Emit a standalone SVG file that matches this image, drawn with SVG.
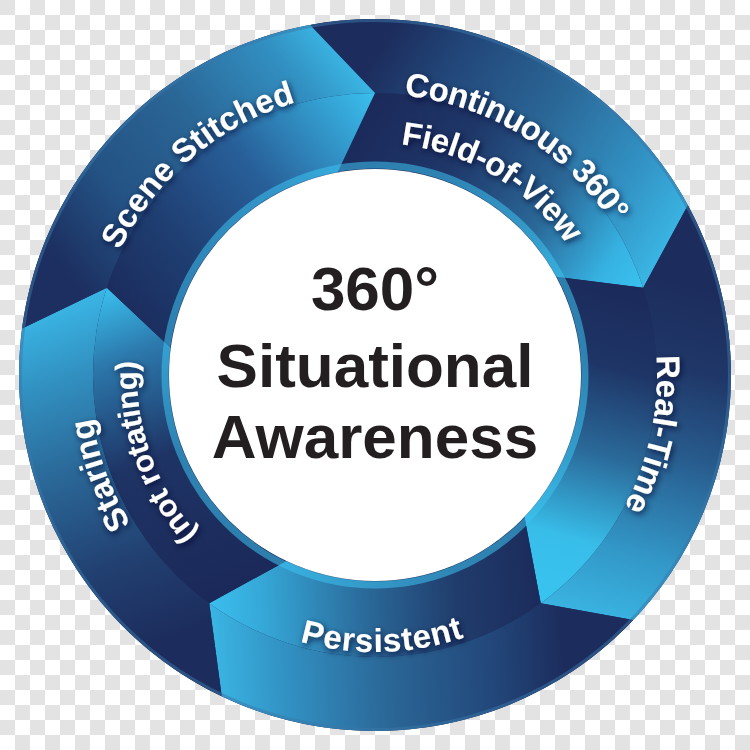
<svg xmlns="http://www.w3.org/2000/svg" xmlns:xlink="http://www.w3.org/1999/xlink" width="750" height="750" viewBox="0 0 750 750">
<defs>
<style>
.ring{font-family:"Liberation Sans",Arial,Helvetica,sans-serif;font-weight:bold;font-size:33px;fill:#ffffff;filter:url(#ts)}
.center{font-family:"Liberation Sans",Arial,Helvetica,sans-serif;font-weight:bold;font-size:62px;fill:#231f20;text-anchor:middle}
</style>
<pattern id="checker" width="30" height="30" patternUnits="userSpaceOnUse">
<rect width="30" height="30" fill="#ffffff"/>
<rect width="15" height="15" fill="#e3e3e3"/>
<rect x="15" y="15" width="15" height="15" fill="#e3e3e3"/>
</pattern>
<filter id="ts" x="-20%" y="-30%" width="140%" height="160%">
<feDropShadow dx="1.5" dy="2.5" stdDeviation="3" flood-color="#07112b" flood-opacity="0.8"/>
</filter>
<linearGradient id="oCont" gradientUnits="userSpaceOnUse" x1="348" y1="94" x2="643" y2="288">
<stop offset="0" stop-color="#1c2c5c"/><stop offset="0.2" stop-color="#224679"/><stop offset="0.5" stop-color="#2a6696"/><stop offset="0.8" stop-color="#3292c4"/><stop offset="1" stop-color="#3ab6e4"/></linearGradient>
<linearGradient id="iCont" gradientUnits="userSpaceOnUse" x1="348" y1="94" x2="643" y2="288">
<stop offset="0" stop-color="#1a2757"/><stop offset="0.35" stop-color="#1e3668"/><stop offset="0.65" stop-color="#2a6898"/><stop offset="0.88" stop-color="#36b2e2"/><stop offset="1" stop-color="#3ac2ef"/></linearGradient>
<linearGradient id="oReal" gradientUnits="userSpaceOnUse" x1="634" y1="263" x2="541" y2="603">
<stop offset="0" stop-color="#1c2c5c"/><stop offset="0.25" stop-color="#1f3768"/><stop offset="0.5" stop-color="#285c8e"/><stop offset="0.8" stop-color="#3298c8"/><stop offset="1" stop-color="#3ab4e2"/></linearGradient>
<linearGradient id="iReal" gradientUnits="userSpaceOnUse" x1="634" y1="263" x2="541" y2="603">
<stop offset="0" stop-color="#1a2757"/><stop offset="0.3" stop-color="#1e3566"/><stop offset="0.55" stop-color="#2a6a9a"/><stop offset="0.8" stop-color="#38bde9"/><stop offset="1" stop-color="#38c4f0"/></linearGradient>
<linearGradient id="oPers" gradientUnits="userSpaceOnUse" x1="562" y1="586" x2="209" y2="603">
<stop offset="0" stop-color="#1c2c5c"/><stop offset="0.2" stop-color="#224679"/><stop offset="0.5" stop-color="#2a6696"/><stop offset="0.8" stop-color="#3292c4"/><stop offset="1" stop-color="#3ab6e4"/></linearGradient>
<linearGradient id="iPers" gradientUnits="userSpaceOnUse" x1="562" y1="586" x2="209" y2="603">
<stop offset="0" stop-color="#1a2757"/><stop offset="0.3" stop-color="#203c6c"/><stop offset="0.55" stop-color="#2a6898"/><stop offset="0.85" stop-color="#35a8d8"/><stop offset="1" stop-color="#3bbfee"/></linearGradient>
<linearGradient id="oStar" gradientUnits="userSpaceOnUse" x1="232" y1="618" x2="107" y2="288">
<stop offset="0" stop-color="#1c2c5c"/><stop offset="0.25" stop-color="#213f70"/><stop offset="0.55" stop-color="#2a6898"/><stop offset="0.8" stop-color="#3190c0"/><stop offset="1" stop-color="#3ab5e5"/></linearGradient>
<linearGradient id="iStar" gradientUnits="userSpaceOnUse" x1="232" y1="618" x2="107" y2="288">
<stop offset="0" stop-color="#1a2757"/><stop offset="0.5" stop-color="#1e3465"/><stop offset="0.8" stop-color="#2c78ac"/><stop offset="1" stop-color="#3ac0ee"/></linearGradient>
<linearGradient id="oScene" gradientUnits="userSpaceOnUse" x1="100" y1="314" x2="375" y2="93">
<stop offset="0" stop-color="#1c2f60"/><stop offset="0.25" stop-color="#245284"/><stop offset="0.55" stop-color="#2a6696"/><stop offset="0.85" stop-color="#3290c2"/><stop offset="1" stop-color="#3ab6e4"/></linearGradient>
<linearGradient id="iScene" gradientUnits="userSpaceOnUse" x1="100" y1="314" x2="375" y2="93">
<stop offset="0" stop-color="#1a2858"/><stop offset="0.3" stop-color="#1f3e72"/><stop offset="0.6" stop-color="#28609a"/><stop offset="1" stop-color="#3ac0ee"/></linearGradient>
<path id="pScene" d="M129.30,517.43 A284,284 0 0 1 557.17,157.12"/>
<path id="pCont" d="M164.87,188.44 A281,281 0 0 1 636.27,478.44"/>
<path id="pField" d="M199.91,222.79 A232,232 0 0 1 591.59,458.14"/>
<path id="pReal" d="M480.64,113.54 A282,282 0 0 1 365.16,656.83"/>
<path id="pPers" d="M103.66,430.70 A277,277 0 0 0 649.03,415.46"/>
<path id="pStar" d="M424.66,656.66 A286,286 0 0 1 232,127.32"/>
<path id="pNot" d="M413.46,609.87 A238,238 0 0 1 258.53,167.45"/>
</defs>

<rect width="750" height="750" fill="url(#checker)"/>

<circle cx="375" cy="375" r="356" fill="#1b2a5a"/>

<g id="node-continuous">
<path d="M310.12,24.96 A356,356 0 0 1 687.86,205.13 L643.20,287.86 A282,282 0 0 0 375,93 Z" fill="url(#oCont)"/>
<path d="M375,93 A282,282 0 0 1 643.20,287.86 L556.04,276.71 A206,206 0 0 0 337.46,172.45 Z" fill="url(#iCont)"/>
<text class="ring" letter-spacing="-0.6"><textPath xlink:href="#pCont" href="#pCont" startOffset="50%" text-anchor="middle">Continuous 360°</textPath></text>
<text class="ring" letter-spacing="-0.4"><textPath xlink:href="#pField" href="#pField" startOffset="50%" text-anchor="middle">Field-of-View</textPath></text>
</g>

<g id="node-realtime">
<path d="M687.86,205.13 A356,356 0 0 1 633.23,620.05 L540.76,603.14 A282,282 0 0 0 643.20,287.86 Z" fill="url(#oReal)"/>
<path d="M643.20,287.86 A282,282 0 0 1 540.76,603.14 L524.43,516.80 A206,206 0 0 0 556.04,276.71 Z" fill="url(#iReal)"/>
<text class="ring"><textPath xlink:href="#pReal" href="#pReal" startOffset="50%" text-anchor="middle">Real-Time</textPath></text>
</g>

<g id="node-persistent">
<path d="M633.23,620.05 A356,356 0 0 1 221.74,696.32 L209.24,603.14 A282,282 0 0 0 540.76,603.14 Z" fill="url(#oPers)"/>
<path d="M540.76,603.14 A282,282 0 0 1 209.24,603.14 L286.32,560.93 A206,206 0 0 0 524.43,516.80 Z" fill="url(#iPers)"/>
<text class="ring" letter-spacing="0.8"><textPath xlink:href="#pPers" href="#pPers" startOffset="50%" text-anchor="middle">Persistent</textPath></text>
</g>

<g id="node-staring">
<path d="M221.74,696.32 A356,356 0 0 1 22.05,328.53 L106.80,287.86 A282,282 0 0 0 209.24,603.14 Z" fill="url(#oStar)"/>
<path d="M209.24,603.14 A282,282 0 0 1 106.80,287.86 L170.76,348.11 A206,206 0 0 0 286.32,560.93 Z" fill="url(#iStar)"/>
<text class="ring"><textPath xlink:href="#pStar" href="#pStar" startOffset="50%" text-anchor="middle">Staring</textPath></text>
<text class="ring" style="font-size:31px" letter-spacing="-0.4"><textPath xlink:href="#pNot" href="#pNot" startOffset="50%" text-anchor="middle">(not rotating)</textPath></text>
</g>

<g id="node-scene">
<path d="M22.05,328.53 A356,356 0 0 1 310.12,24.96 L375,93 A282,282 0 0 0 106.80,287.86 Z" fill="url(#oScene)"/>
<path d="M106.80,287.86 A282,282 0 0 1 375,93 L337.46,172.45 A206,206 0 0 0 170.76,348.11 Z" fill="url(#iScene)"/>
<text class="ring"><textPath xlink:href="#pScene" href="#pScene" startOffset="50%" text-anchor="middle">Scene Stitched</textPath></text>
</g>

<circle cx="375" cy="375" r="354.5" fill="none" stroke="#3a78aa" stroke-width="3" stroke-opacity="0.5"/>

<g id="node-center">
<circle cx="375" cy="375" r="210" fill="none" stroke="#3cc3f0" stroke-width="7" stroke-opacity="0.55"/>
<circle cx="375" cy="375" r="206" fill="#ffffff"/>
<text class="center" x="375" y="310">360°</text>
<text class="center" x="375" y="387">Situational</text>
<text class="center" x="375" y="458">Awareness</text>
</g>
</svg>
